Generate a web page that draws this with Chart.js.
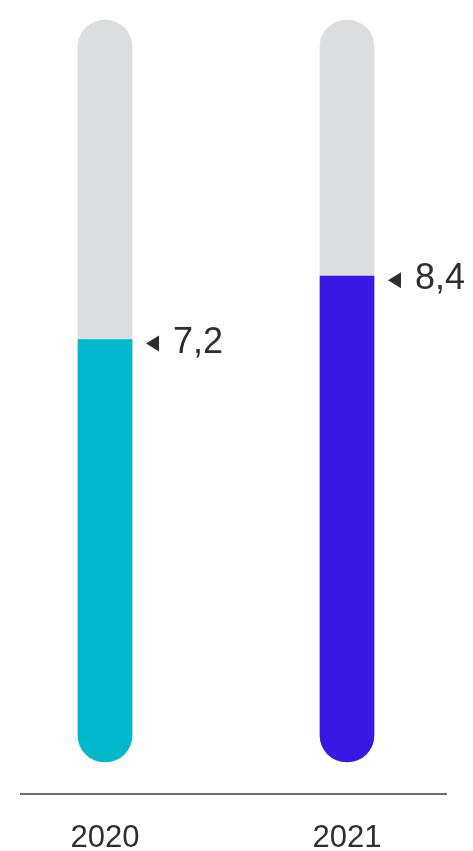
<!DOCTYPE html>
<html>
<head>
<meta charset="utf-8">
<script src="https://cdn.jsdelivr.net/npm/chart.js@4.4.1/dist/chart.umd.min.js"></script>
<style>
  html, body { margin: 0; padding: 0; background: #ffffff; }
  canvas { display: block; }
</style>
</head>
<body>
<canvas id="myChart" width="473" height="851"></canvas>
<script>
const years = ["2020", "2021"];
const values = [7.2, 8.4];
const valueLabels = ["7,2", "8,4"];
const barColors = ["#00b9cc", "#3a18e4"];
const trackColor = "#dcdddf";
// scale range of the gray tracks
const scaleMin = -0.8;
const scaleMax = 13.25;
const trackValues = years.map(function () { return scaleMax; });

const textColor = "#2e2e2e";
const fontFamily = "'Liberation Sans', Arial, sans-serif";

// value labels with a small pointer triangle next to each bar top
const valueLabelPlugin = {
  id: "valueLabels",
  afterDatasetsDraw(chart) {
    const ctx = chart.ctx;
    const meta = chart.getDatasetMeta(0);
    ctx.save();
    meta.data.forEach(function (bar, i) {
      const right = bar.x + bar.width / 2;
      const y = bar.y;
      ctx.fillStyle = textColor;
      ctx.beginPath();
      ctx.moveTo(right + 14, y + 4);
      ctx.lineTo(right + 27, y - 4);
      ctx.lineTo(right + 27, y + 12);
      ctx.closePath();
      ctx.fill();
      ctx.font = "36px " + fontFamily;
      ctx.textAlign = "left";
      ctx.textBaseline = "alphabetic";
      ctx.fillText(valueLabels[i], right + 41, y + 13);
    });
    ctx.restore();
  }
};

// thin baseline above the year labels
const baselinePlugin = {
  id: "baseline",
  afterDraw(chart) {
    const ctx = chart.ctx;
    const y = chart.chartArea.bottom + 32;
    ctx.save();
    ctx.strokeStyle = "#3c3c3c";
    ctx.lineWidth = 1.5;
    ctx.beginPath();
    ctx.moveTo(20, y);
    ctx.lineTo(chart.width - 26, y);
    ctx.stroke();
    ctx.restore();
  }
};

new Chart("myChart", {
  type: "bar",
  data: {
    labels: years,
    datasets: [
      {
        data: values,
        backgroundColor: barColors,
        base: scaleMin,
        barThickness: 54,
        borderSkipped: false,
        borderRadius: { topLeft: 0, topRight: 0, bottomLeft: 27, bottomRight: 27 },
        grouped: false,
        clip: false,
        order: 0
      },
      {
        data: trackValues,
        backgroundColor: trackColor,
        base: scaleMin,
        barThickness: 54,
        borderSkipped: false,
        borderRadius: 27,
        grouped: false,
        clip: false,
        order: 1
      }
    ]
  },
  options: {
    responsive: false,
    animation: false,
    layout: {
      padding: { top: 20, left: 105, right: 126, bottom: 0 }
    },
    plugins: {
      legend: { display: false },
      tooltip: { enabled: false }
    },
    scales: {
      x: {
        offset: false,
        grid: { display: false, drawTicks: false },
        border: { display: false },
        afterFit: function (scale) { scale.height = 89; },
        ticks: {
          color: textColor,
          padding: 58,
          maxRotation: 0,
          font: { size: 31, family: fontFamily }
        }
      },
      y: {
        display: false,
        min: scaleMin,
        max: scaleMax
      }
    }
  },
  plugins: [valueLabelPlugin, baselinePlugin]
});
</script>
</body>
</html>
